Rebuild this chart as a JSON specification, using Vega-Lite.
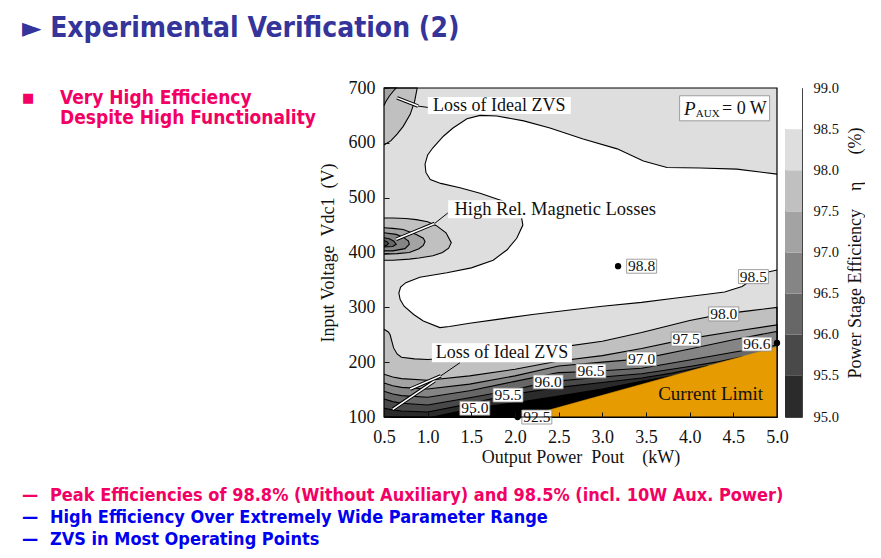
{
  "$schema": "https://vega.github.io/schema/vega-lite/v6.json",
  "padding": {"left": 22, "top": 15, "right": 0, "bottom": 0},
  "background": "white",
  "title": {
    "text": "► Experimental Verification (2)",
    "anchor": "start",
    "font": "DejaVu Sans Condensed, DejaVu Sans, sans-serif",
    "fontSize": 28,
    "fontWeight": "bold",
    "color": "#34349a",
    "offset": 36
  },
  "datasets": {
    "poly": [
      {"id":"W","i":0,"P":5.0,"V":368},{"id":"W","i":1,"P":4.86,"V":363},{"id":"W","i":2,"P":4.73,"V":352},{"id":"W","i":3,"P":4.6,"V":338},
      {"id":"W","i":4,"P":4.4,"V":328},{"id":"W","i":5,"P":4.2,"V":324},{"id":"W","i":6,"P":3.8,"V":316},{"id":"W","i":7,"P":3.45,"V":309},
      {"id":"W","i":8,"P":3.0,"V":302},{"id":"W","i":9,"P":2.63,"V":295},{"id":"W","i":10,"P":2.2,"V":287},{"id":"W","i":11,"P":1.8,"V":278},
      {"id":"W","i":12,"P":1.48,"V":271},{"id":"W","i":13,"P":1.25,"V":265},{"id":"W","i":14,"P":1.14,"V":263},{"id":"W","i":15,"P":0.95,"V":275},
      {"id":"W","i":16,"P":0.84,"V":287},{"id":"W","i":17,"P":0.73,"V":302},{"id":"W","i":18,"P":0.685,"V":314},{"id":"W","i":19,"P":0.67,"V":326},
      {"id":"W","i":20,"P":0.69,"V":337},{"id":"W","i":21,"P":0.75,"V":345},{"id":"W","i":22,"P":0.91,"V":355},{"id":"W","i":23,"P":1.22,"V":363},
      {"id":"W","i":24,"P":1.5,"V":372},{"id":"W","i":25,"P":1.75,"V":386},{"id":"W","i":26,"P":1.91,"V":405},{"id":"W","i":27,"P":2.02,"V":426},
      {"id":"W","i":28,"P":2.09,"V":450},{"id":"W","i":29,"P":2.07,"V":469},{"id":"W","i":30,"P":1.98,"V":484},{"id":"W","i":31,"P":1.86,"V":494},
      {"id":"W","i":32,"P":1.6,"V":508},{"id":"W","i":33,"P":1.37,"V":518},{"id":"W","i":34,"P":1.15,"V":526},{"id":"W","i":35,"P":1.03,"V":533},
      {"id":"W","i":36,"P":0.98,"V":546},{"id":"W","i":37,"P":0.97,"V":561},{"id":"W","i":38,"P":1.0,"V":578},{"id":"W","i":39,"P":1.06,"V":591},
      {"id":"W","i":40,"P":1.18,"V":612},{"id":"W","i":41,"P":1.29,"V":627},{"id":"W","i":42,"P":1.45,"V":644},{"id":"W","i":43,"P":1.6,"V":650},
      {"id":"W","i":44,"P":1.79,"V":649},{"id":"W","i":45,"P":2.1,"V":640},{"id":"W","i":46,"P":2.4,"V":627},{"id":"W","i":47,"P":2.78,"V":607},
      {"id":"W","i":48,"P":3.17,"V":589},{"id":"W","i":49,"P":3.47,"V":567},{"id":"W","i":50,"P":3.74,"V":555},{"id":"W","i":51,"P":4.12,"V":554},
      {"id":"W","i":52,"P":4.54,"V":552},{"id":"W","i":53,"P":5.0,"V":543},

      {"id":"L98","i":0,"P":0.5,"V":260},{"id":"L98","i":1,"P":0.55,"V":255},{"id":"L98","i":2,"P":0.57,"V":250},{"id":"L98","i":3,"P":0.59,"V":238},
      {"id":"L98","i":4,"P":0.61,"V":226},{"id":"L98","i":5,"P":0.65,"V":215},{"id":"L98","i":6,"P":0.7,"V":209},{"id":"L98","i":7,"P":0.85,"V":206},
      {"id":"L98","i":8,"P":1.0,"V":205},{"id":"L98","i":9,"P":1.48,"V":210},{"id":"L98","i":10,"P":2.0,"V":218},{"id":"L98","i":11,"P":2.5,"V":227},
      {"id":"L98","i":12,"P":3.0,"V":238},{"id":"L98","i":13,"P":3.45,"V":254},{"id":"L98","i":14,"P":4.0,"V":276},{"id":"L98","i":15,"P":4.39,"V":288},
      {"id":"L98","i":16,"P":4.7,"V":294},{"id":"L98","i":17,"P":5.0,"V":300},{"id":"L98","i":18,"P":5.0,"V":100},{"id":"L98","i":19,"P":0.5,"V":100},

      {"id":"L975","i":0,"P":0.5,"V":178},{"id":"L975","i":1,"P":0.6,"V":173},{"id":"L975","i":2,"P":0.7,"V":170},{"id":"L975","i":3,"P":1.0,"V":167},
      {"id":"L975","i":4,"P":1.48,"V":175},{"id":"L975","i":5,"P":2.0,"V":187},{"id":"L975","i":6,"P":2.5,"V":202},{"id":"L975","i":7,"P":3.0,"V":212},
      {"id":"L975","i":8,"P":3.45,"V":225},{"id":"L975","i":9,"P":3.96,"V":242},{"id":"L975","i":10,"P":4.5,"V":256},{"id":"L975","i":11,"P":5.0,"V":268},
      {"id":"L975","i":12,"P":5.0,"V":100},{"id":"L975","i":13,"P":0.5,"V":100},

      {"id":"L970","i":0,"P":0.5,"V":162},{"id":"L970","i":1,"P":0.6,"V":157},{"id":"L970","i":2,"P":0.7,"V":154},{"id":"L970","i":3,"P":1.0,"V":151},
      {"id":"L970","i":4,"P":1.48,"V":160},{"id":"L970","i":5,"P":2.0,"V":175},{"id":"L970","i":6,"P":2.5,"V":193},{"id":"L970","i":7,"P":3.0,"V":200},
      {"id":"L970","i":8,"P":3.45,"V":206},{"id":"L970","i":9,"P":4.0,"V":224},{"id":"L970","i":10,"P":4.5,"V":241},{"id":"L970","i":11,"P":5.0,"V":256},
      {"id":"L970","i":12,"P":5.0,"V":100},{"id":"L970","i":13,"P":0.5,"V":100},

      {"id":"L965","i":0,"P":0.5,"V":147},{"id":"L965","i":1,"P":0.6,"V":142},{"id":"L965","i":2,"P":0.7,"V":139},{"id":"L965","i":3,"P":1.0,"V":136},
      {"id":"L965","i":4,"P":1.48,"V":148},{"id":"L965","i":5,"P":2.0,"V":165},{"id":"L965","i":6,"P":2.5,"V":181},{"id":"L965","i":7,"P":2.87,"V":183},
      {"id":"L965","i":8,"P":3.45,"V":189},{"id":"L965","i":9,"P":4.0,"V":204},{"id":"L965","i":10,"P":4.5,"V":218},{"id":"L965","i":11,"P":5.0,"V":231},
      {"id":"L965","i":12,"P":5.0,"V":100},{"id":"L965","i":13,"P":0.5,"V":100},

      {"id":"L960","i":0,"P":0.5,"V":133},{"id":"L960","i":1,"P":0.6,"V":128},{"id":"L960","i":2,"P":0.7,"V":125},{"id":"L960","i":3,"P":1.0,"V":122},
      {"id":"L960","i":4,"P":1.48,"V":135},{"id":"L960","i":5,"P":2.0,"V":150},{"id":"L960","i":6,"P":2.38,"V":164},{"id":"L960","i":7,"P":3.0,"V":173},
      {"id":"L960","i":8,"P":3.45,"V":179},{"id":"L960","i":9,"P":4.0,"V":192},{"id":"L960","i":10,"P":4.3,"V":200},{"id":"L960","i":11,"P":4.6,"V":210},
      {"id":"L960","i":12,"P":4.6,"V":100},{"id":"L960","i":13,"P":0.5,"V":100},

      {"id":"L955","i":0,"P":0.5,"V":116},{"id":"L955","i":1,"P":0.6,"V":113},{"id":"L955","i":2,"P":0.7,"V":111},{"id":"L955","i":3,"P":1.0,"V":109},
      {"id":"L955","i":4,"P":1.48,"V":124},{"id":"L955","i":5,"P":1.92,"V":140},{"id":"L955","i":6,"P":2.5,"V":154},{"id":"L955","i":7,"P":3.0,"V":163},
      {"id":"L955","i":8,"P":3.45,"V":171},{"id":"L955","i":9,"P":3.8,"V":180},{"id":"L955","i":10,"P":4.2,"V":193},{"id":"L955","i":11,"P":4.2,"V":100},
      {"id":"L955","i":12,"P":0.5,"V":100},

      {"id":"L950","i":0,"P":1.06,"V":100},{"id":"L950","i":1,"P":1.2,"V":105},{"id":"L950","i":2,"P":1.48,"V":114},{"id":"L950","i":3,"P":1.54,"V":116},
      {"id":"L950","i":4,"P":2.0,"V":126},{"id":"L950","i":5,"P":2.5,"V":138},{"id":"L950","i":6,"P":3.0,"V":151},{"id":"L950","i":7,"P":3.45,"V":165},
      {"id":"L950","i":8,"P":3.8,"V":175},{"id":"L950","i":9,"P":3.8,"V":100},

      {"id":"Z98","i":0,"P":0.5,"V":596},{"id":"Z98","i":1,"P":0.58,"V":604},{"id":"Z98","i":2,"P":0.65,"V":616},{"id":"Z98","i":3,"P":0.72,"V":630},
      {"id":"Z98","i":4,"P":0.8,"V":652},{"id":"Z98","i":5,"P":0.85,"V":675},{"id":"Z98","i":6,"P":0.88,"V":700},{"id":"Z98","i":7,"P":0.5,"V":700},

      {"id":"Z975","i":0,"P":0.5,"V":668},{"id":"Z975","i":1,"P":0.52,"V":675},{"id":"Z975","i":2,"P":0.56,"V":685},{"id":"Z975","i":3,"P":0.61,"V":695},
      {"id":"Z975","i":4,"P":0.64,"V":700},{"id":"Z975","i":5,"P":0.5,"V":700},

      {"id":"B98","i":0,"P":0.5,"V":463},{"id":"B98","i":1,"P":0.6,"V":463},{"id":"B98","i":2,"P":0.75,"V":462},{"id":"B98","i":3,"P":0.87,"V":460},
      {"id":"B98","i":4,"P":1.0,"V":456},{"id":"B98","i":5,"P":1.1,"V":449},{"id":"B98","i":6,"P":1.21,"V":436},{"id":"B98","i":7,"P":1.27,"V":418},
      {"id":"B98","i":8,"P":1.24,"V":408},{"id":"B98","i":9,"P":1.17,"V":400},{"id":"B98","i":10,"P":1.06,"V":394},{"id":"B98","i":11,"P":0.9,"V":390},
      {"id":"B98","i":12,"P":0.79,"V":388},{"id":"B98","i":13,"P":0.6,"V":386},{"id":"B98","i":14,"P":0.5,"V":386},

      {"id":"B975","i":0,"P":0.5,"V":445},{"id":"B975","i":1,"P":0.6,"V":444},{"id":"B975","i":2,"P":0.72,"V":442},{"id":"B975","i":3,"P":0.87,"V":433},
      {"id":"B975","i":4,"P":0.95,"V":426},{"id":"B975","i":5,"P":0.97,"V":420},{"id":"B975","i":6,"P":0.95,"V":413},{"id":"B975","i":7,"P":0.9,"V":407},
      {"id":"B975","i":8,"P":0.79,"V":400},{"id":"B975","i":9,"P":0.65,"V":398},{"id":"B975","i":10,"P":0.5,"V":397},

      {"id":"B970","i":0,"P":0.5,"V":436},{"id":"B970","i":1,"P":0.64,"V":433},{"id":"B970","i":2,"P":0.72,"V":428},{"id":"B970","i":3,"P":0.78,"V":421},
      {"id":"B970","i":4,"P":0.79,"V":415},{"id":"B970","i":5,"P":0.74,"V":407},{"id":"B970","i":6,"P":0.6,"V":403},{"id":"B970","i":7,"P":0.5,"V":403},

      {"id":"B965","i":0,"P":0.5,"V":427},{"id":"B965","i":1,"P":0.56,"V":425},{"id":"B965","i":2,"P":0.61,"V":421},{"id":"B965","i":3,"P":0.64,"V":415},
      {"id":"B965","i":4,"P":0.6,"V":411},{"id":"B965","i":5,"P":0.5,"V":410},

      {"id":"B960","i":0,"P":0.5,"V":422},{"id":"B960","i":1,"P":0.54,"V":419},{"id":"B960","i":2,"P":0.55,"V":416},{"id":"B960","i":3,"P":0.53,"V":413},
      {"id":"B960","i":4,"P":0.5,"V":412},

      {"id":"O","i":0,"P":2.1,"V":100},{"id":"O","i":1,"P":5.0,"V":228},{"id":"O","i":2,"P":5.0,"V":100}
    ],
    "ptr": [
      {"id":"a","i":0,"P":0.65,"V":682},{"id":"a","i":1,"P":0.89,"V":667},
      {"id":"b","i":0,"P":0.64,"V":424},{"id":"b","i":1,"P":1.08,"V":453},
      {"id":"c","i":0,"P":0.6,"V":114},{"id":"c","i":1,"P":1.08,"V":166},
      {"id":"d","i":0,"P":0.8,"V":151},{"id":"d","i":1,"P":1.15,"V":175}
    ],
    "lead": [
      {"id":"a","i":0,"P":0.89,"V":667},{"id":"a","i":1,"P":1.03,"V":664},
      {"id":"b","i":0,"P":1.08,"V":453},{"id":"b","i":1,"P":1.23,"V":472},
      {"id":"d","i":0,"P":1.15,"V":175},{"id":"d","i":1,"P":1.37,"V":199}
    ],
    "lab": [
      {"t":"98.8","P":3.45,"V":375},{"t":"98.5","P":4.73,"V":356},{"t":"98.0","P":4.39,"V":288},
      {"t":"97.5","P":3.96,"V":242},{"t":"97.0","P":3.45,"V":206},{"t":"96.5","P":2.87,"V":184},
      {"t":"96.0","P":2.38,"V":164},{"t":"95.5","P":1.92,"V":140},{"t":"95.0","P":1.54,"V":116},
      {"t":"92.5","P":2.25,"V":100},{"t":"96.6","P":4.77,"V":233}
    ],
    "dots": [
      {"P":3.18,"V":375},{"P":5.0,"V":235},{"P":2.03,"V":100}
    ],
    "ticksx": [
      {"P":0.5},{"P":1.0},{"P":1.5},{"P":2.0},{"P":2.5},{"P":3.0},{"P":3.5},{"P":4.0},{"P":4.5},{"P":5.0}
    ],
    "ticksy": [
      {"V":100},{"V":200},{"V":300},{"V":400},{"V":500},{"V":600},{"V":700}
    ]
  },
  "vconcat": [
    {
      "hconcat": [
        {
          "width": 354,
          "height": 40,
          "view": {"stroke": null},
          "encoding": {
            "x": {"field": "col", "type": "nominal", "axis": null, "scale": {"domain": ["b", "t"], "range": [0, 38], "padding": 0}},
            "y": {"field": "line", "type": "ordinal", "axis": null, "scale": {"domain": [1, 2]}},
            "text": {"field": "t"}
          },
          "layer": [
            {
              "data": {"values": [{"col": "b", "line": 1, "t": "■"}]},
              "mark": {"type": "text", "align": "left", "baseline": "middle", "font": "DejaVu Sans", "fontSize": 13, "color": "#f20063"}
            },
            {
              "data": {"values": [
                {"col": "t", "line": 1, "t": "Very High Efficiency"},
                {"col": "t", "line": 2, "t": "Despite High Functionality"}
              ]},
              "mark": {"type": "text", "align": "left", "baseline": "middle", "font": "DejaVu Sans Condensed, DejaVu Sans, sans-serif", "fontWeight": "bold", "fontSize": 19, "color": "#f20063"}
            }
          ]
        },
        {
          "width": 393,
          "height": 329,
          "view": {"fill": "#dedede", "stroke": null},
          "encoding": {
            "x": {
              "field": "P", "type": "quantitative",
              "scale": {"domain": [0.5, 5], "nice": false, "zero": false},
              "axis": {
                "values": [0.5, 1, 1.5, 2, 2.5, 3, 3.5, 4, 4.5, 5], "format": ".1f",
                "labelFontSize": 18, "labelFlush": false, "labelOverlap": false,
                "tickSize": -5, "labelPadding": 16, "domain": false, "zindex": 1,
                "title": "Output Power\u2002Pout\u2003(kW)", "titleFontSize": 18, "titlePadding": 2
              }
            },
            "y": {
              "field": "V", "type": "quantitative",
              "scale": {"domain": [100, 700], "nice": false, "zero": false},
              "axis": {
                "values": [100, 200, 300, 400, 500, 600, 700],
                "labelFontSize": 18, "labelFlush": false, "labelOverlap": false,
                "tickSize": -5, "labelPadding": 14, "domain": false, "zindex": 1,
                "title": "Input Voltage\u2002Vdc1\u2002(V)", "titleFontSize": 18, "titlePadding": 11
              }
            }
          },
          "layer": [
            {"data": {"name": "poly"}, "transform": [{"filter": "datum.id == 'W'"}], "mark": {"type": "line", "fill": "#ffffff", "stroke": "#000", "strokeWidth": 1.1}, "encoding": {"order": {"field": "i", "type": "quantitative"}}},
            {"data": {"name": "poly"}, "transform": [{"filter": "datum.id == 'L98'"}], "mark": {"type": "line", "fill": "#c0c0c0", "stroke": "#000", "strokeWidth": 1.1}, "encoding": {"order": {"field": "i", "type": "quantitative"}}},
            {"data": {"name": "poly"}, "transform": [{"filter": "datum.id == 'L975'"}], "mark": {"type": "line", "fill": "#a3a3a3", "stroke": "#000", "strokeWidth": 1.1}, "encoding": {"order": {"field": "i", "type": "quantitative"}}},
            {"data": {"name": "poly"}, "transform": [{"filter": "datum.id == 'L970'"}], "mark": {"type": "line", "fill": "#858585", "stroke": "#000", "strokeWidth": 1.1}, "encoding": {"order": {"field": "i", "type": "quantitative"}}},
            {"data": {"name": "poly"}, "transform": [{"filter": "datum.id == 'L965'"}], "mark": {"type": "line", "fill": "#676767", "stroke": "#000", "strokeWidth": 1.1}, "encoding": {"order": {"field": "i", "type": "quantitative"}}},
            {"data": {"name": "poly"}, "transform": [{"filter": "datum.id == 'L960'"}], "mark": {"type": "line", "fill": "#494949", "stroke": "#000", "strokeWidth": 1.1}, "encoding": {"order": {"field": "i", "type": "quantitative"}}},
            {"data": {"name": "poly"}, "transform": [{"filter": "datum.id == 'L955'"}], "mark": {"type": "line", "fill": "#2b2b2b", "stroke": "#000", "strokeWidth": 1.1}, "encoding": {"order": {"field": "i", "type": "quantitative"}}},
            {"data": {"name": "poly"}, "transform": [{"filter": "datum.id == 'L950'"}], "mark": {"type": "line", "fill": "#000000", "stroke": "#000", "strokeWidth": 1.1}, "encoding": {"order": {"field": "i", "type": "quantitative"}}},
            {"data": {"name": "poly"}, "transform": [{"filter": "datum.id == 'Z98'"}], "mark": {"type": "line", "fill": "#c0c0c0", "stroke": "#000", "strokeWidth": 1.1}, "encoding": {"order": {"field": "i", "type": "quantitative"}}},
            {"data": {"name": "poly"}, "transform": [{"filter": "datum.id == 'Z975'"}], "mark": {"type": "line", "fill": "#a3a3a3", "stroke": "#000", "strokeWidth": 1.1}, "encoding": {"order": {"field": "i", "type": "quantitative"}}},
            {"data": {"name": "poly"}, "transform": [{"filter": "datum.id == 'B98'"}], "mark": {"type": "line", "fill": "#c0c0c0", "stroke": "#000", "strokeWidth": 1.1}, "encoding": {"order": {"field": "i", "type": "quantitative"}}},
            {"data": {"name": "poly"}, "transform": [{"filter": "datum.id == 'B975'"}], "mark": {"type": "line", "fill": "#a3a3a3", "stroke": "#000", "strokeWidth": 1.1}, "encoding": {"order": {"field": "i", "type": "quantitative"}}},
            {"data": {"name": "poly"}, "transform": [{"filter": "datum.id == 'B970'"}], "mark": {"type": "line", "fill": "#858585", "stroke": "#000", "strokeWidth": 1.1}, "encoding": {"order": {"field": "i", "type": "quantitative"}}},
            {"data": {"name": "poly"}, "transform": [{"filter": "datum.id == 'B965'"}], "mark": {"type": "line", "fill": "#676767", "stroke": "#000", "strokeWidth": 1.1}, "encoding": {"order": {"field": "i", "type": "quantitative"}}},
            {"data": {"name": "poly"}, "transform": [{"filter": "datum.id == 'B960'"}], "mark": {"type": "line", "fill": "#494949", "stroke": "#000", "strokeWidth": 1.1}, "encoding": {"order": {"field": "i", "type": "quantitative"}}},
            {"data": {"name": "poly"}, "transform": [{"filter": "datum.id == 'O'"}], "mark": {"type": "line", "fill": "#e69b00", "stroke": "#e69b00", "strokeWidth": 0.5}, "encoding": {"order": {"field": "i", "type": "quantitative"}}},

            {"data": {"name": "ptr"}, "mark": {"type": "line", "stroke": "#000", "strokeWidth": 3.6}, "encoding": {"detail": {"field": "id"}, "order": {"field": "i", "type": "quantitative"}}},
            {"data": {"name": "ptr"}, "mark": {"type": "line", "stroke": "#fff", "strokeWidth": 1.6}, "encoding": {"detail": {"field": "id"}, "order": {"field": "i", "type": "quantitative"}}},
            {"data": {"name": "lead"}, "mark": {"type": "line", "stroke": "#000", "strokeWidth": 1}, "encoding": {"detail": {"field": "id"}, "order": {"field": "i", "type": "quantitative"}}},

            {"data": {"name": "dots"}, "mark": {"type": "circle", "size": 40, "color": "#000", "opacity": 1}},
            {"data": {"name": "lab"}, "mark": {"type": "point", "shape": "M-1,-0.467L1,-0.467L1,0.467L-1,0.467Z", "size": 900, "filled": true, "fill": "#fff", "stroke": "#888", "strokeWidth": 0.8, "opacity": 1}},
            {"data": {"name": "lab"}, "mark": {"type": "text", "font": "Liberation Serif", "fontSize": 15.5, "color": "#111", "baseline": "middle"}, "encoding": {"text": {"field": "t"}}},

            {"data": {"values": [{"P": 1.82, "V": 668}]}, "mark": {"type": "point", "shape": "M-1,-0.119L1,-0.119L1,0.119L-1,0.119Z", "size": 20449, "filled": true, "fill": "#fff", "strokeWidth": 0, "opacity": 1}},
            {"data": {"values": [{"P": 1.85, "V": 217}]}, "mark": {"type": "point", "shape": "M-1,-0.136L1,-0.136L1,0.136L-1,0.136Z", "size": 19600, "filled": true, "fill": "#fff", "strokeWidth": 0, "opacity": 1}},
            {"data": {"values": [{"P": 2.46, "V": 479}]}, "mark": {"type": "point", "shape": "M-1,-0.084L1,-0.084L1,0.084L-1,0.084Z", "size": 45796, "filled": true, "fill": "#fff", "strokeWidth": 0, "opacity": 1}},
            {"data": {"values": [{"P": 4.40, "V": 663}]}, "mark": {"type": "point", "shape": "M-1,-0.278L1,-0.278L1,0.278L-1,0.278Z", "size": 8100, "filled": true, "fill": "#fff", "stroke": "#888", "strokeWidth": 0.8, "opacity": 1}},
            {
              "data": {"values": [
                {"t": "Loss of Ideal ZVS", "P": 1.82, "V": 668},
                {"t": "Loss of Ideal ZVS", "P": 1.85, "V": 217}
              ]},
              "mark": {"type": "text", "font": "Liberation Serif", "fontSize": 18, "color": "#111", "baseline": "middle"},
              "encoding": {"text": {"field": "t"}}
            },
            {"data": {"values": [{"t": "High Rel. Magnetic Losses", "P": 2.46, "V": 479}]}, "mark": {"type": "text", "font": "Liberation Serif", "fontSize": 18.5, "color": "#111", "baseline": "middle"}, "encoding": {"text": {"field": "t"}}},
            {"data": {"values": [{"t": "Current Limit", "P": 4.24, "V": 142}]}, "mark": {"type": "text", "font": "Liberation Serif", "fontSize": 19, "color": "#111", "baseline": "middle"}, "encoding": {"text": {"field": "t"}}},
            {"data": {"values": [{"t": "P", "P": 3.935, "V": 662}]}, "mark": {"type": "text", "font": "Liberation Serif", "fontStyle": "italic", "fontSize": 19, "color": "#111", "align": "left", "baseline": "middle"}, "encoding": {"text": {"field": "t"}}},
            {"data": {"values": [{"t": "AUX", "P": 4.07, "V": 653}]}, "mark": {"type": "text", "font": "Liberation Serif", "fontSize": 11, "color": "#111", "align": "left", "baseline": "middle"}, "encoding": {"text": {"field": "t"}}},
            {"data": {"values": [{"t": "= 0 W", "P": 4.37, "V": 662}]}, "mark": {"type": "text", "font": "Liberation Serif", "fontSize": 18, "color": "#111", "align": "left", "baseline": "middle"}, "encoding": {"text": {"field": "t"}}},

            {"data": {"name": "ticksx"}, "mark": {"type": "tick", "orient": "vertical", "size": 5, "thickness": 1, "yOffset": 2.5, "color": "#111", "opacity": 1}, "encoding": {"y": {"datum": 700, "type": "quantitative"}}},
            {"data": {"name": "ticksy"}, "mark": {"type": "tick", "orient": "horizontal", "size": 5, "thickness": 1, "xOffset": -2.5, "color": "#111", "opacity": 1}, "encoding": {"x": {"datum": 5, "type": "quantitative"}}},
            {"data": {"values": [{"P": 0.5, "P2": 5, "V": 100, "V2": 700}]}, "mark": {"type": "rect", "fill": null, "fillOpacity": 0, "stroke": "#000", "strokeWidth": 1.2}, "encoding": {"x2": {"field": "P2"}, "y2": {"field": "V2"}}}
          ]
        },
        {
          "width": 17,
          "height": 329,
          "view": {"stroke": "#444"},
          "data": {"values": [
            {"lo": 95.0, "hi": 95.5}, {"lo": 95.5, "hi": 96.0}, {"lo": 96.0, "hi": 96.5}, {"lo": 96.5, "hi": 97.0},
            {"lo": 97.0, "hi": 97.5}, {"lo": 97.5, "hi": 98.0}, {"lo": 98.0, "hi": 98.5}, {"lo": 98.5, "hi": 99.0}
          ]},
          "mark": {"type": "rect"},
          "encoding": {
            "x": {"datum": 0, "type": "quantitative", "scale": {"domain": [0, 1]}, "axis": null},
            "x2": {"datum": 1},
            "y": {
              "field": "lo", "type": "quantitative",
              "scale": {"domain": [95, 99], "nice": false, "zero": false},
              "axis": {
                "orient": "right", "values": [95, 95.5, 96, 96.5, 97, 97.5, 98, 98.5, 99], "format": ".1f",
                "labelFontSize": 14.5, "labelFlush": false, "labelOverlap": false, "ticks": false, "domain": false, "labelPadding": 11,
                "title": "Power Stage Efficiency\u2003η\u2003\u2002(%)", "titleAngle": 270, "titleBaseline": "top", "titleFontSize": 18, "titlePadding": 8
              }
            },
            "y2": {"field": "hi"},
            "color": {
              "field": "lo", "type": "ordinal", "legend": null,
              "scale": {
                "domain": [95.0, 95.5, 96.0, 96.5, 97.0, 97.5, 98.0, 98.5],
                "range": ["#2b2b2b", "#494949", "#676767", "#858585", "#a3a3a3", "#c0c0c0", "#dedede", "#ffffff"]
              }
            }
          }
        }
      ],
      "spacing": 8,
      "bounds": "flush"
    },
    {
      "width": 820,
      "height": 66,
      "view": {"stroke": null},
      "encoding": {
        "x": {"field": "col", "type": "nominal", "axis": null, "scale": {"domain": ["d", "t"], "range": [0, 28], "padding": 0}},
        "y": {"field": "line", "type": "ordinal", "axis": null, "scale": {"domain": [1, 2, 3]}},
        "text": {"field": "t"}
      },
      "layer": [
        {
          "data": {"values": [
            {"col": "d", "line": 1, "t": "—"},
            {"col": "t", "line": 1, "t": "Peak Efficiencies of 98.8% (Without Auxiliary) and 98.5% (incl. 10W Aux. Power)"}
          ]},
          "mark": {"type": "text", "align": "left", "baseline": "middle", "font": "DejaVu Sans Condensed, DejaVu Sans, sans-serif", "fontWeight": "bold", "fontSize": 18, "color": "#f20063"}
        },
        {
          "data": {"values": [
            {"col": "d", "line": 2, "t": "—"},
            {"col": "t", "line": 2, "t": "High Efficiency Over Extremely Wide Parameter Range"},
            {"col": "d", "line": 3, "t": "—"},
            {"col": "t", "line": 3, "t": "ZVS in Most Operating Points"}
          ]},
          "mark": {"type": "text", "align": "left", "baseline": "middle", "font": "DejaVu Sans Condensed, DejaVu Sans, sans-serif", "fontWeight": "bold", "fontSize": 18, "color": "#0000ee"}
        }
      ]
    }
  ],
  "spacing": 19,
  "config": {
    "view": {"stroke": null},
    "axis": {
      "grid": false,
      "labelFont": "Liberation Serif",
      "titleFont": "Liberation Serif",
      "titleFontWeight": "normal",
      "labelColor": "#111",
      "titleColor": "#111",
      "tickColor": "#111"
    }
  }
}
